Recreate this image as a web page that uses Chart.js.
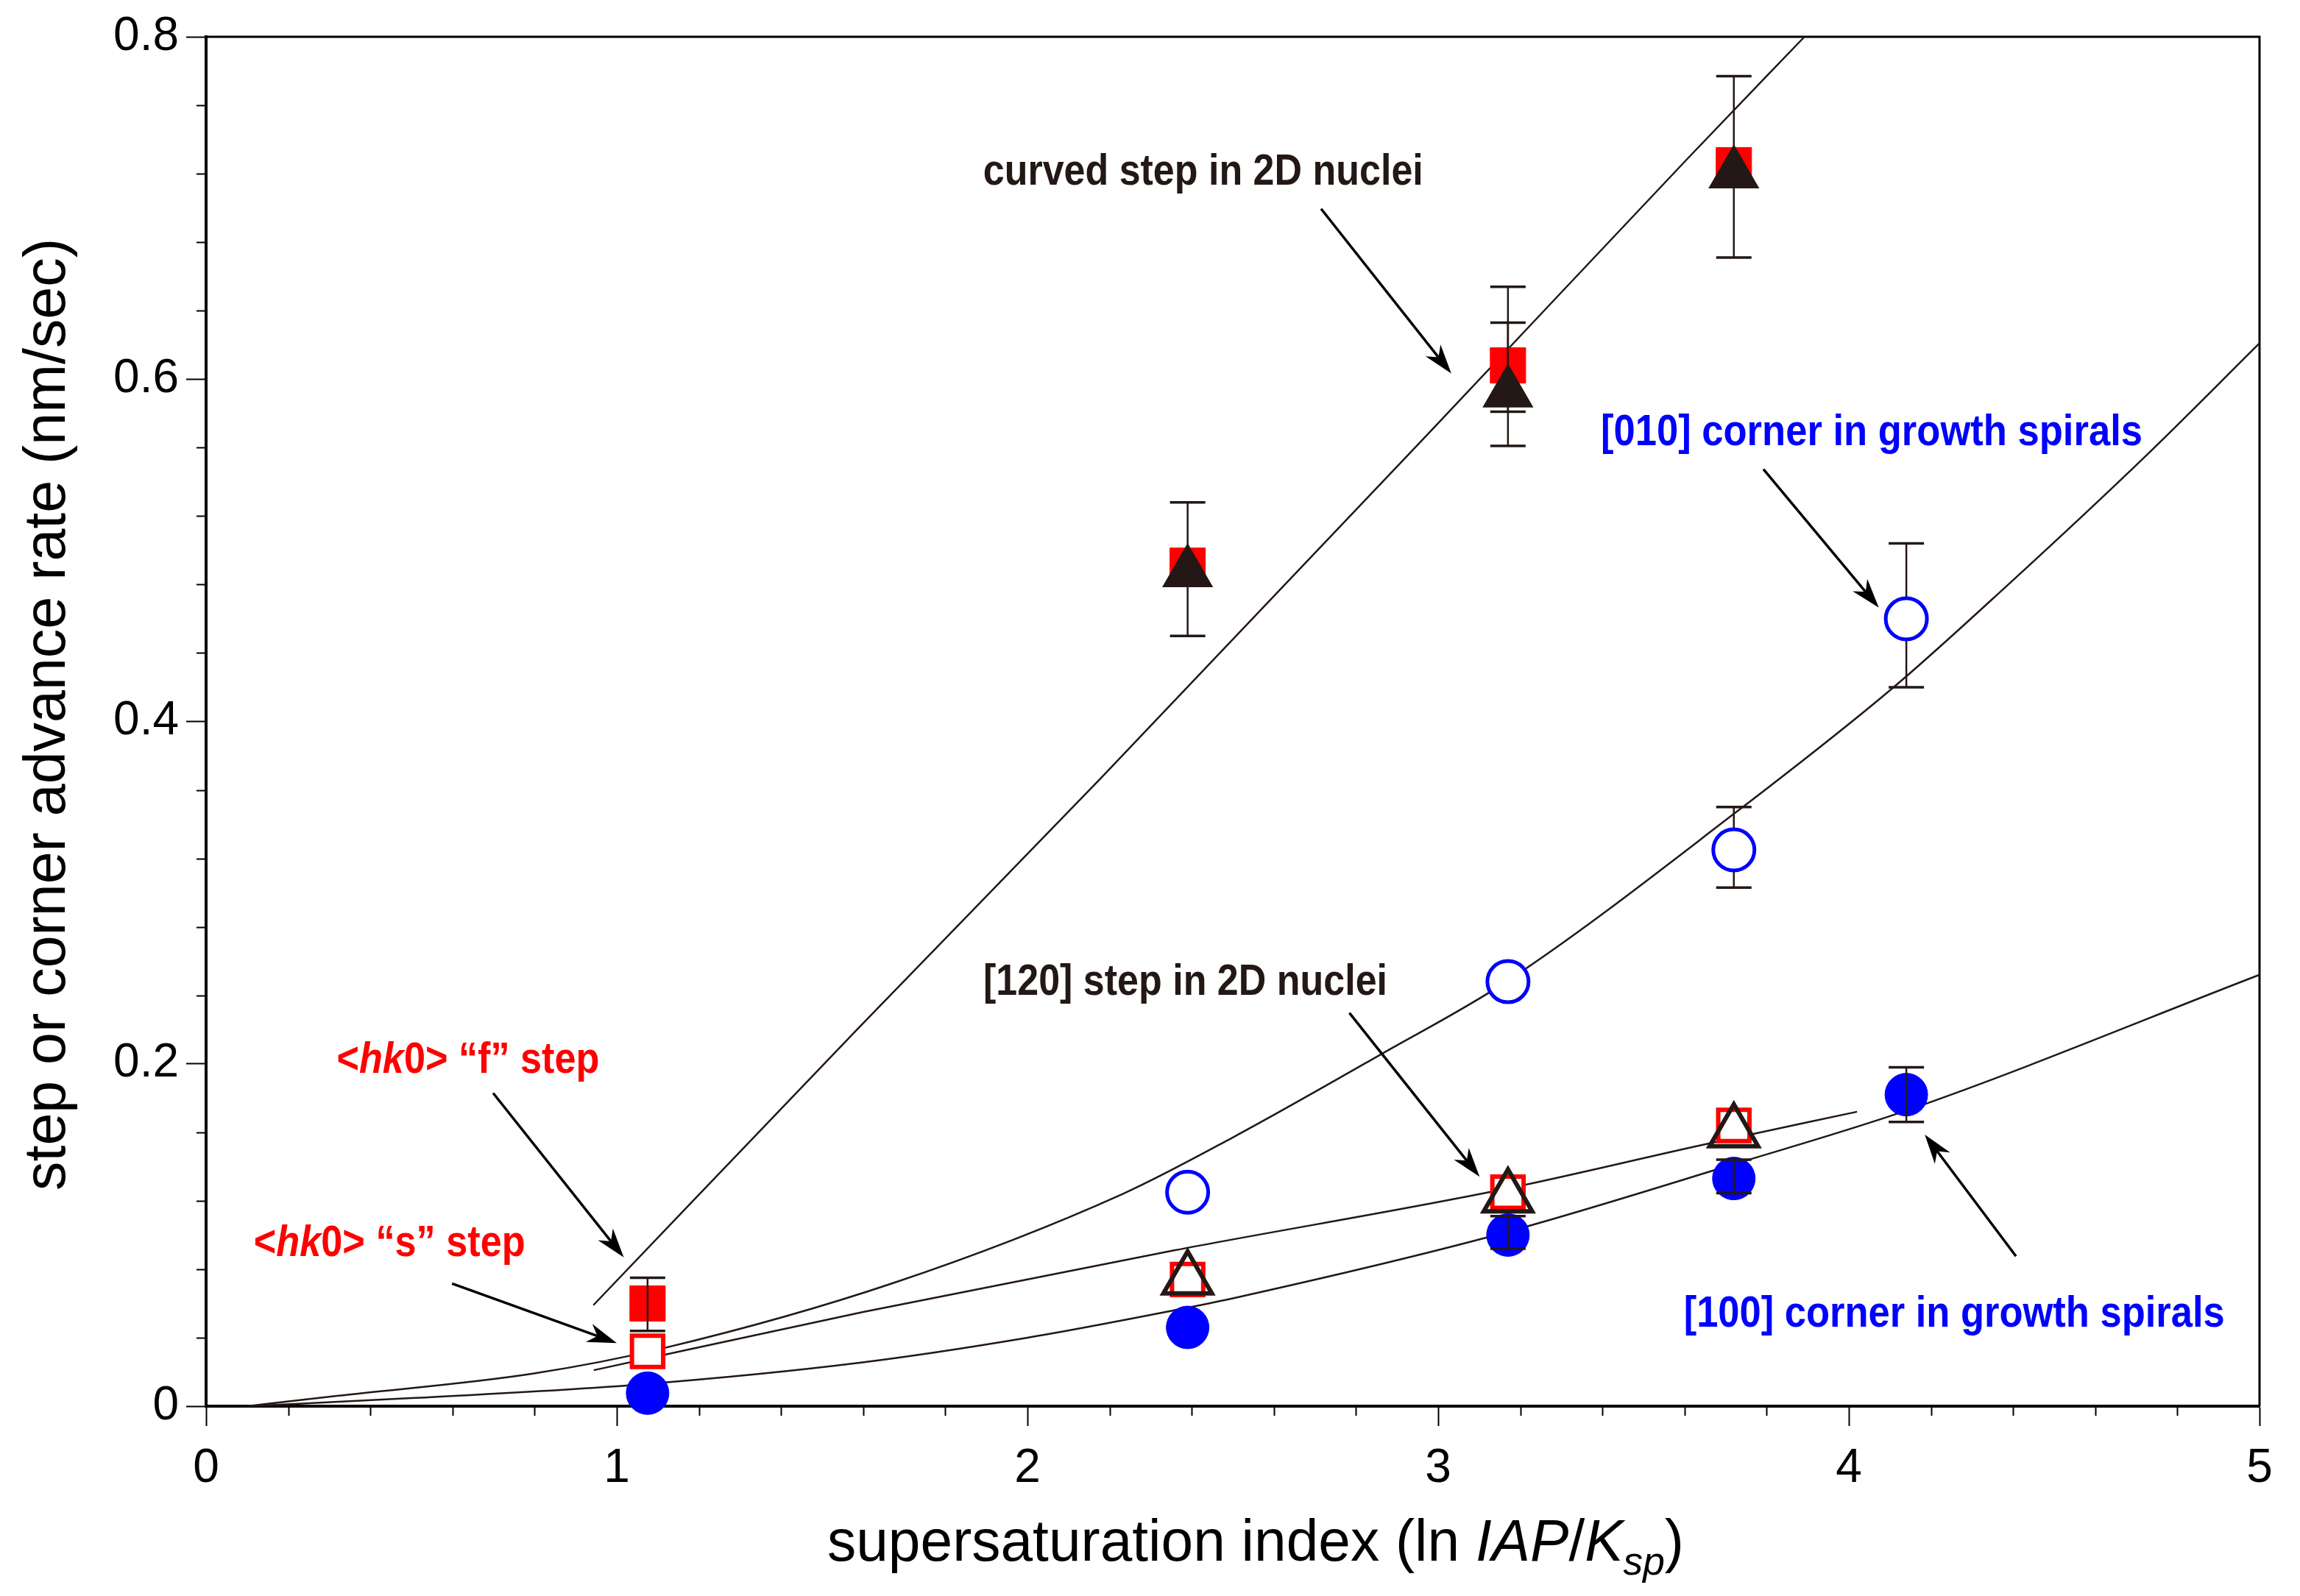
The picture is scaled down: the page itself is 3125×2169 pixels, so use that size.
<!DOCTYPE html>
<html>
<head>
<meta charset="utf-8">
<script src="https://cdn.jsdelivr.net/npm/chart.js@4.4.1/dist/chart.umd.min.js"></script>
<style>
  html, body { margin: 0; padding: 0; background: #fff; }
</style>
</head>
<body>
<canvas id="chartId" width="3125" height="2169"></canvas>
<script>
// supersaturation index values (ln IAP/Ksp) of the experiments
const sigma = [1.075, 2.39, 3.17, 3.72, 4.14];

// step / corner advance rates (nm/sec), null = not measured
const fStepRate      = [0.060, 0.491, 0.608, 0.725, null];   // <hk0> "f" step (filled square)
const curvedStepRate = [null, 0.487, 0.592, 0.720, null];    // curved step in 2D nuclei (filled triangle)
const sStepRate      = [0.032, 0.074, 0.125, 0.164, null];   // <hk0> "s" step (open square)
const step120Rate    = [null, 0.074, 0.122, 0.160, null];    // [120] step in 2D nuclei (open triangle)
const corner010Rate  = [null, 0.125, 0.248, 0.325, 0.460];   // [010] corner in growth spirals (open circle)
const corner100Rate  = [0.0076, 0.046, 0.100, 0.133, 0.182]; // [100] corner in growth spirals (filled circle)

// error bar bounds
const fStepErrLow       = [0.044, null, 0.581, null, null];
const fStepErrHigh      = [0.075, null, 0.633, null, null];
const curvedStepErrLow  = [null, 0.450, 0.561, 0.671, null];
const curvedStepErrHigh = [null, 0.528, 0.654, 0.777, null];
const corner010ErrLow   = [null, null, null, 0.303, 0.420];
const corner010ErrHigh  = [null, null, null, 0.350, 0.504];
const corner100ErrLow   = [null, null, 0.092, 0.1245, 0.166];
const corner100ErrHigh  = [null, null, 0.111, 0.144, 0.198];

// fitted curves
const fitCurvedX = [0.943, 1.589, 2.179, 2.995, 3.604, 3.892];
const fitCurvedY = [0.059, 0.221, 0.367, 0.573, 0.728, 0.800];
const fit010X = [0.1, 0.319, 0.796, 1.116, 1.674, 2.232, 2.5, 2.864, 3.166, 3.72, 4.109, 4.379, 4.731, 5.0];
const fit010Y = [0, 0.006, 0.019, 0.034, 0.072, 0.124, 0.157, 0.206, 0.248, 0.346, 0.420, 0.478, 0.557, 0.621];
const fit120X = [0.944, 1.6, 2.357, 3.166, 3.643, 4.02];
const fit120Y = [0.021, 0.055, 0.091, 0.127, 0.1526, 0.172];
const fit100X = [0.1, 0.5, 1.052, 1.595, 2.0, 2.357, 2.5, 3.152, 3.721, 4.15, 5.0];
const fit100Y = [0, 0.0047, 0.0126, 0.0255, 0.040, 0.056, 0.063, 0.1007, 0.1414, 0.1735, 0.252];

// axis ticks
const xTickStep = 1, xMinorStep = 0.2;
const yTickStep = 0.2, yMinorStep = 0.04;

const DARK = '#231815', RED = '#ff0000', BLUE = '#0000ff';
const FAMILY = '"Liberation Sans", Arial, sans-serif';

function pts(xs, ys) {
    const out = [];
    xs.forEach((x, i) => { if (ys[i] !== null) out.push({ x: x, y: ys[i] }); });
    return out;
}

// text labels with arrows, placed in data coordinates
const notes = [
    { segs: [{ t: 'curved step in 2D nuclei' }], color: DARK, at: [1.892, 0.7137], w: 598, from: [2.715, 0.6995], to: [3.032, 0.6033] },
    { segs: [{ t: '[010] corner in growth spirals' }], color: BLUE, at: [3.396, 0.5615], w: 736, from: [3.792, 0.5474], to: [4.073, 0.4665] },
    { segs: [{ t: '[120] step in 2D nuclei' }], color: DARK, at: [1.8925, 0.2405], w: 549, from: [2.784, 0.2297], to: [3.101, 0.134] },
    { segs: [{ t: '<' }, { t: 'hk', i: true }, { t: '0> \u201cf\u201d step' }], color: RED, at: [0.318, 0.1947], w: 357, from: [0.699, 0.1829], to: [1.017, 0.0869] },
    { segs: [{ t: '<' }, { t: 'hk', i: true }, { t: '0> \u201cs\u201d step' }], color: RED, at: [0.116, 0.0876], w: 369, from: [0.599, 0.0716], to: [1.0, 0.0369] },
    { segs: [{ t: '[100] corner in growth spirals' }], color: BLUE, at: [3.598, 0.0465], w: 735, from: [4.407, 0.0876], to: [4.185, 0.1586] }
];

const xTitle = [{ t: 'supersaturation index (ln ' }, { t: 'IAP', i: true }, { t: '/' }, { t: 'K', i: true }, { t: 'sp', i: true, sub: true }, { t: ')' }];
const yTitle = [{ t: 'step or corner advance rate (nm/sec)' }];

function segFont(s, size, weight) {
    const sz = s.sub ? size * 0.68 : size;
    return (s.i ? 'italic ' : '') + weight + ' ' + sz + 'px ' + FAMILY;
}

// draws text segments from the origin, squeezed to the given width
function drawRich(ctx, segs, size, weight, color, targetW) {
    let natural = 0;
    segs.forEach(s => { ctx.font = segFont(s, size, weight); natural += ctx.measureText(s.t).width; });
    ctx.save();
    ctx.scale(targetW / natural, 1);
    ctx.fillStyle = color;
    ctx.textBaseline = 'alphabetic';
    ctx.textAlign = 'left';
    let cx = 0;
    segs.forEach(s => {
        ctx.font = segFont(s, size, weight);
        ctx.fillText(s.t, cx, s.sub ? size * 0.24 : 0);
        cx += ctx.measureText(s.t).width;
    });
    ctx.restore();
}

function drawArrow(ctx, x1, y1, x2, y2) {
    const ang = Math.atan2(y2 - y1, x2 - x1);
    const len = 40, half = 13, notch = 28;
    ctx.save();
    ctx.strokeStyle = '#000';
    ctx.fillStyle = '#000';
    ctx.lineWidth = 3.5;
    ctx.beginPath();
    ctx.moveTo(x1, y1);
    ctx.lineTo(x2 - Math.cos(ang) * notch, y2 - Math.sin(ang) * notch);
    ctx.stroke();
    ctx.translate(x2, y2);
    ctx.rotate(ang);
    ctx.beginPath();
    ctx.moveTo(0, 0);
    ctx.lineTo(-len, -half);
    ctx.lineTo(-notch, 0);
    ctx.lineTo(-len, half);
    ctx.closePath();
    ctx.fill();
    ctx.restore();
}

function drawErrorBars(chart, index) {
    const ds = chart.data.datasets[index];
    if (!ds.errLow) return;
    const ctx = chart.ctx, xs = chart.scales.x, ys = chart.scales.y;
    ctx.save();
    ctx.strokeStyle = DARK;
    sigma.forEach((x, i) => {
        if (ds.errLow[i] === null) return;
        const px = xs.getPixelForValue(x);
        const lo = ys.getPixelForValue(ds.errLow[i]);
        const hi = ys.getPixelForValue(ds.errHigh[i]);
        ctx.lineWidth = 2.5;
        ctx.beginPath();
        ctx.moveTo(px, lo); ctx.lineTo(px, hi);
        ctx.stroke();
        ctx.lineWidth = 3.5;
        ctx.beginPath();
        ctx.moveTo(px - 24, lo); ctx.lineTo(px + 24, lo);
        ctx.moveTo(px - 24, hi); ctx.lineTo(px + 24, hi);
        ctx.stroke();
    });
    ctx.restore();
}

const decorations = {
    id: 'decorations',
    beforeDatasetsDraw(chart) {
        const ctx = chart.ctx, a = chart.chartArea, xs = chart.scales.x, ys = chart.scales.y;
        ctx.save();
        ctx.strokeStyle = '#000';
        // top and right frame
        ctx.lineWidth = 3;
        ctx.beginPath();
        ctx.moveTo(a.left, a.top); ctx.lineTo(a.right, a.top); ctx.lineTo(a.right, a.bottom);
        ctx.stroke();
        // minor ticks
        ctx.lineWidth = 2;
        ctx.beginPath();
        for (let i = 1; i * xMinorStep < xs.max - 1e-9; i++) {
            if (i % Math.round(xTickStep / xMinorStep) === 0) continue;
            const px = Math.round(xs.getPixelForValue(i * xMinorStep)) + 0.5;
            ctx.moveTo(px, a.bottom); ctx.lineTo(px, a.bottom + 13);
        }
        for (let i = 1; i * yMinorStep < ys.max - 1e-9; i++) {
            if (i % Math.round(yTickStep / yMinorStep) === 0) continue;
            const py = Math.round(ys.getPixelForValue(i * yMinorStep)) + 0.5;
            ctx.moveTo(a.left, py); ctx.lineTo(a.left - 13, py);
        }
        ctx.stroke();
        // axis titles
        ctx.save();
        ctx.translate(a.left + 844, chart.height - 48);
        drawRich(ctx, xTitle, 80, 'normal', '#000', 1164);
        ctx.restore();
        ctx.save();
        ctx.translate(88, a.top + 1568);
        ctx.rotate(-Math.PI / 2);
        drawRich(ctx, yTitle, 80, 'normal', '#000', 1294);
        ctx.restore();
        ctx.restore();
    },
    beforeDatasetDraw(chart, args) {
        if (chart.data.datasets[args.index].errBehind) drawErrorBars(chart, args.index);
    },
    afterDatasetDraw(chart, args) {
        if (!chart.data.datasets[args.index].errBehind) drawErrorBars(chart, args.index);
    },
    afterDatasetsDraw(chart) {
        const ctx = chart.ctx, xs = chart.scales.x, ys = chart.scales.y;
        notes.forEach(n => {
            ctx.save();
            ctx.translate(xs.getPixelForValue(n.at[0]), ys.getPixelForValue(n.at[1]));
            drawRich(ctx, n.segs, 60, 'bold', n.color, n.w);
            ctx.restore();
            drawArrow(ctx, xs.getPixelForValue(n.from[0]), ys.getPixelForValue(n.from[1]),
                xs.getPixelForValue(n.to[0]), ys.getPixelForValue(n.to[1]));
        });
    }
};

function fitLine(xs, ys) {
    return {
        data: pts(xs, ys), showLine: true, pointRadius: 0, borderColor: DARK, borderWidth: 2.5,
        cubicInterpolationMode: 'monotone', fill: false, clip: false
    };
}

const ctx = document.getElementById('chartId').getContext('2d');

const data = {
    datasets: [
        { data: pts(sigma, curvedStepRate), pointStyle: 'triangle', pointRadius: 38, backgroundColor: DARK, borderColor: DARK, borderWidth: 2,
          errLow: curvedStepErrLow, errHigh: curvedStepErrHigh, clip: false },
        { data: pts(sigma, fStepRate), pointStyle: 'rect', pointRadius: 34, backgroundColor: RED, borderColor: RED, borderWidth: 1,
          errLow: fStepErrLow, errHigh: fStepErrHigh, clip: false },
        { data: pts(sigma, step120Rate), pointStyle: 'triangle', pointRadius: 38, backgroundColor: 'rgba(0,0,0,0)', borderColor: DARK, borderWidth: 6, clip: false },
        { data: pts(sigma, sStepRate), pointStyle: 'rect', pointRadius: 30, backgroundColor: '#fff', borderColor: RED, borderWidth: 6, clip: false },
        { data: pts(sigma, corner010Rate), pointStyle: 'circle', pointRadius: 28, backgroundColor: '#fff', borderColor: BLUE, borderWidth: 5,
          errLow: corner010ErrLow, errHigh: corner010ErrHigh, errBehind: true, clip: false },
        { data: pts(sigma, corner100Rate), pointStyle: 'circle', pointRadius: 29, backgroundColor: BLUE, borderColor: BLUE, borderWidth: 1,
          errLow: corner100ErrLow, errHigh: corner100ErrHigh, clip: false },
        fitLine(fitCurvedX, fitCurvedY),
        fitLine(fit010X, fit010Y),
        fitLine(fit120X, fit120Y),
        fitLine(fit100X, fit100Y)
    ]
};

const options = {
    responsive: false,
    devicePixelRatio: 1,
    animation: false,
    events: [],
    layout: { padding: { left: 0, right: 55, top: 50, bottom: 0 } },
    plugins: { legend: { display: false }, tooltip: { enabled: false } },
    scales: {
        x: {
            type: 'linear', min: 0, max: 5,
            ticks: { stepSize: xTickStep, color: '#000', padding: 20, maxRotation: 0, font: { family: FAMILY, size: 64 } },
            grid: { drawOnChartArea: false, drawTicks: true, tickLength: 27, tickWidth: 2, tickColor: '#000' },
            border: { display: true, color: '#000', width: 4 },
            afterFit: s => { s.height = 258; }
        },
        y: {
            type: 'linear', min: 0, max: 0.8,
            ticks: { stepSize: yTickStep, color: '#000', padding: 10, font: { family: FAMILY, size: 64 } },
            grid: { drawOnChartArea: false, drawTicks: true, tickLength: 27, tickWidth: 2, tickColor: '#000' },
            border: { display: true, color: '#000', width: 4 },
            afterFit: s => { s.width = 280; }
        }
    }
};

const chart = new Chart(ctx, {
    type: 'scatter',
    data: data,
    options: options,
    plugins: [decorations]
});
</script>
</body>
</html>
